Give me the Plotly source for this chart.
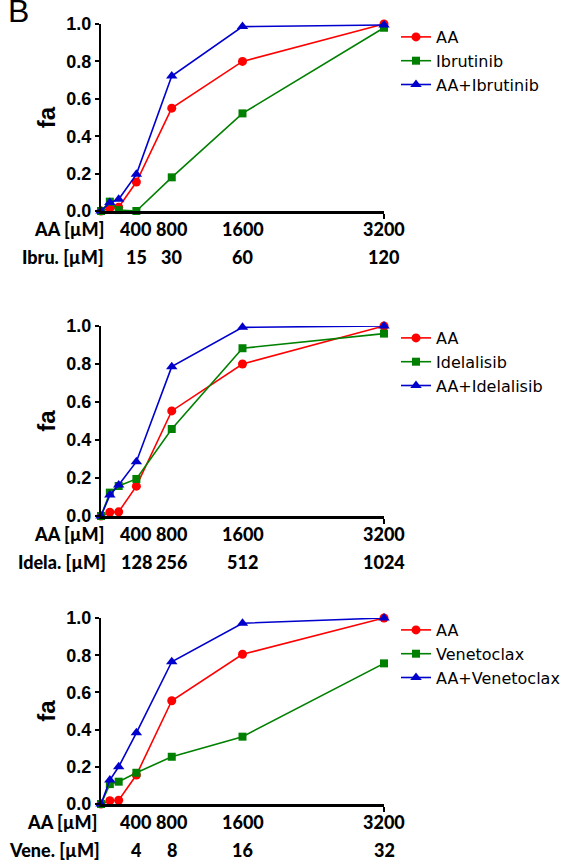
import plotly.graph_objects as go

# ---- data ----
aa_conc = [0, 100, 200, 400, 800, 1600, 3200]
aa_tick_vals = [400, 800, 1600, 3200]
aa_tick_text = ["400", "800", "1600", "3200"]

drug_names = ["Ibrutinib", "Idelalisib", "Venetoclax"]
drug_row_labels = ["Ibru. [µM]", "Idela. [µM]", "Vene. [µM]"]
drug_tick_text = [
    ["15", "30", "60", "120"],
    ["128", "256", "512", "1024"],
    ["4", "8", "16", "32"],
]

fa_aa = [
    [0.0, 0.015, 0.02, 0.155, 0.55, 0.80, 1.0],
    [0.0, 0.02, 0.022, 0.157, 0.553, 0.80, 1.0],
    [0.0, 0.018, 0.02, 0.156, 0.555, 0.805, 1.0],
]
fa_drug = [
    [0.0, 0.05, 0.005, 0.0, 0.18, 0.522, 0.98],
    [0.0, 0.123, 0.158, 0.195, 0.458, 0.883, 0.96],
    [0.0, 0.107, 0.12, 0.168, 0.254, 0.362, 0.756],
]
fa_combo = [
    [0.0, 0.045, 0.063, 0.196, 0.722, 0.986, 0.995],
    [0.0, 0.11, 0.163, 0.286, 0.786, 0.993, 1.0],
    [0.0, 0.129, 0.20, 0.383, 0.765, 0.972, 1.0],
]
y_ticks = [0.0, 0.2, 0.4, 0.6, 0.8, 1.0]

# ---- layout geometry (pixels) ----
W, H = 582, 861
x_left, x_right = 101, 384
panels_px = [(24, 211), (326, 516), (618, 804)]  # (top, bottom) of y range
legend_tops = [20, 321, 613]
row_label_xshift = [(5, 5), (5, 7), (-2, 1)]

RED = "#FF0000"
GREEN = "#008000"
BLUE = "#0000CD"

fig = go.Figure()
annotations = []
layout_axes = {}

for i in range(3):
    n = "" if i == 0 else str(i + 1)
    xa, ya = "x" + n, "y" + n
    leg = "legend" + n
    series = [
        ("AA", fa_aa[i], RED, "circle", 9),
        (drug_names[i], fa_drug[i], GREEN, "square", 8),
        ("AA+" + drug_names[i], fa_combo[i], BLUE, "triangle-up", 10),
    ]
    for name, vals, col, sym, sz in series:
        fig.add_trace(go.Scatter(
            x=aa_conc, y=vals, name=name, mode="lines+markers",
            line=dict(color=col, width=1.6),
            marker=dict(color=col, symbol=sym, size=sz),
            xaxis=xa, yaxis=ya, legend=leg, cliponaxis=False,
        ))
    top, bot = panels_px[i]
    layout_axes["xaxis" + n] = dict(
        domain=[x_left / W, x_right / W], range=[0, 3200], automargin=False,
        anchor=ya, showline=True, linecolor="black", linewidth=3,
        showgrid=False, zeroline=False, showticklabels=False,
        tickvals=[3200], ticks="outside", ticklen=5, tickwidth=2, tickcolor="black",
    )
    layout_axes["yaxis" + n] = dict(
        domain=[1 - bot / H, 1 - top / H], range=[0, 1], automargin=False,
        anchor=xa, showline=True, linecolor="black", linewidth=2,
        showgrid=False, zeroline=False,
        tickvals=y_ticks, tickformat=".1f", ticks="outside", ticklen=4,
        tickwidth=2, tickcolor="black",
        tickfont=dict(family="Liberation Sans", size=18, color="black", weight="bold"),
        title=dict(text="fa", standoff=4,
                   font=dict(family="Liberation Sans", size=24, color="black", weight="bold")),
    )
    layout_axes[leg] = dict(
        x=396 / W, y=1 - legend_tops[i] / H, xanchor="left", yanchor="top",
        font=dict(family="DejaVu Sans", size=16, color="black"),
        bgcolor="rgba(0,0,0,0)", tracegroupgap=0,
    )
    # tick label rows
    rowfont = dict(family="Lato", size=18, color="black", weight=900)
    for v, t in zip(aa_tick_vals, aa_tick_text):
        annotations.append(dict(x=v, y=0, xref=xa, yref=ya, text=t, showarrow=False,
                                yshift=-18, xanchor="center", yanchor="middle", font=rowfont))
    for v, t in zip(aa_tick_vals, drug_tick_text[i]):
        annotations.append(dict(x=v, y=0, xref=xa, yref=ya, text=t, showarrow=False,
                                yshift=-46, xanchor="center", yanchor="middle", font=rowfont))
    annotations.append(dict(x=0, y=0, xref=xa + " domain", yref=ya, text="AA [µM]",
                            showarrow=False, yshift=-18, xshift=row_label_xshift[i][0],
                            xanchor="right", yanchor="middle", font=rowfont))
    annotations.append(dict(x=0, y=0, xref=xa + " domain", yref=ya, text=drug_row_labels[i],
                            showarrow=False, yshift=-46, xshift=row_label_xshift[i][1],
                            xanchor="right", yanchor="middle", font=rowfont))

annotations.append(dict(x=0.01, y=1 - 31 / H, xref="paper", yref="paper", text="B",
                        showarrow=False, xanchor="left", yanchor="bottom",
                        font=dict(family="Liberation Sans", size=32, color="black")))

fig.update_layout(
    width=W, height=H, margin=dict(l=0, r=0, t=0, b=0),
    paper_bgcolor="white", plot_bgcolor="white",
    annotations=annotations, **layout_axes,
)

fig.write_html("out.html")
